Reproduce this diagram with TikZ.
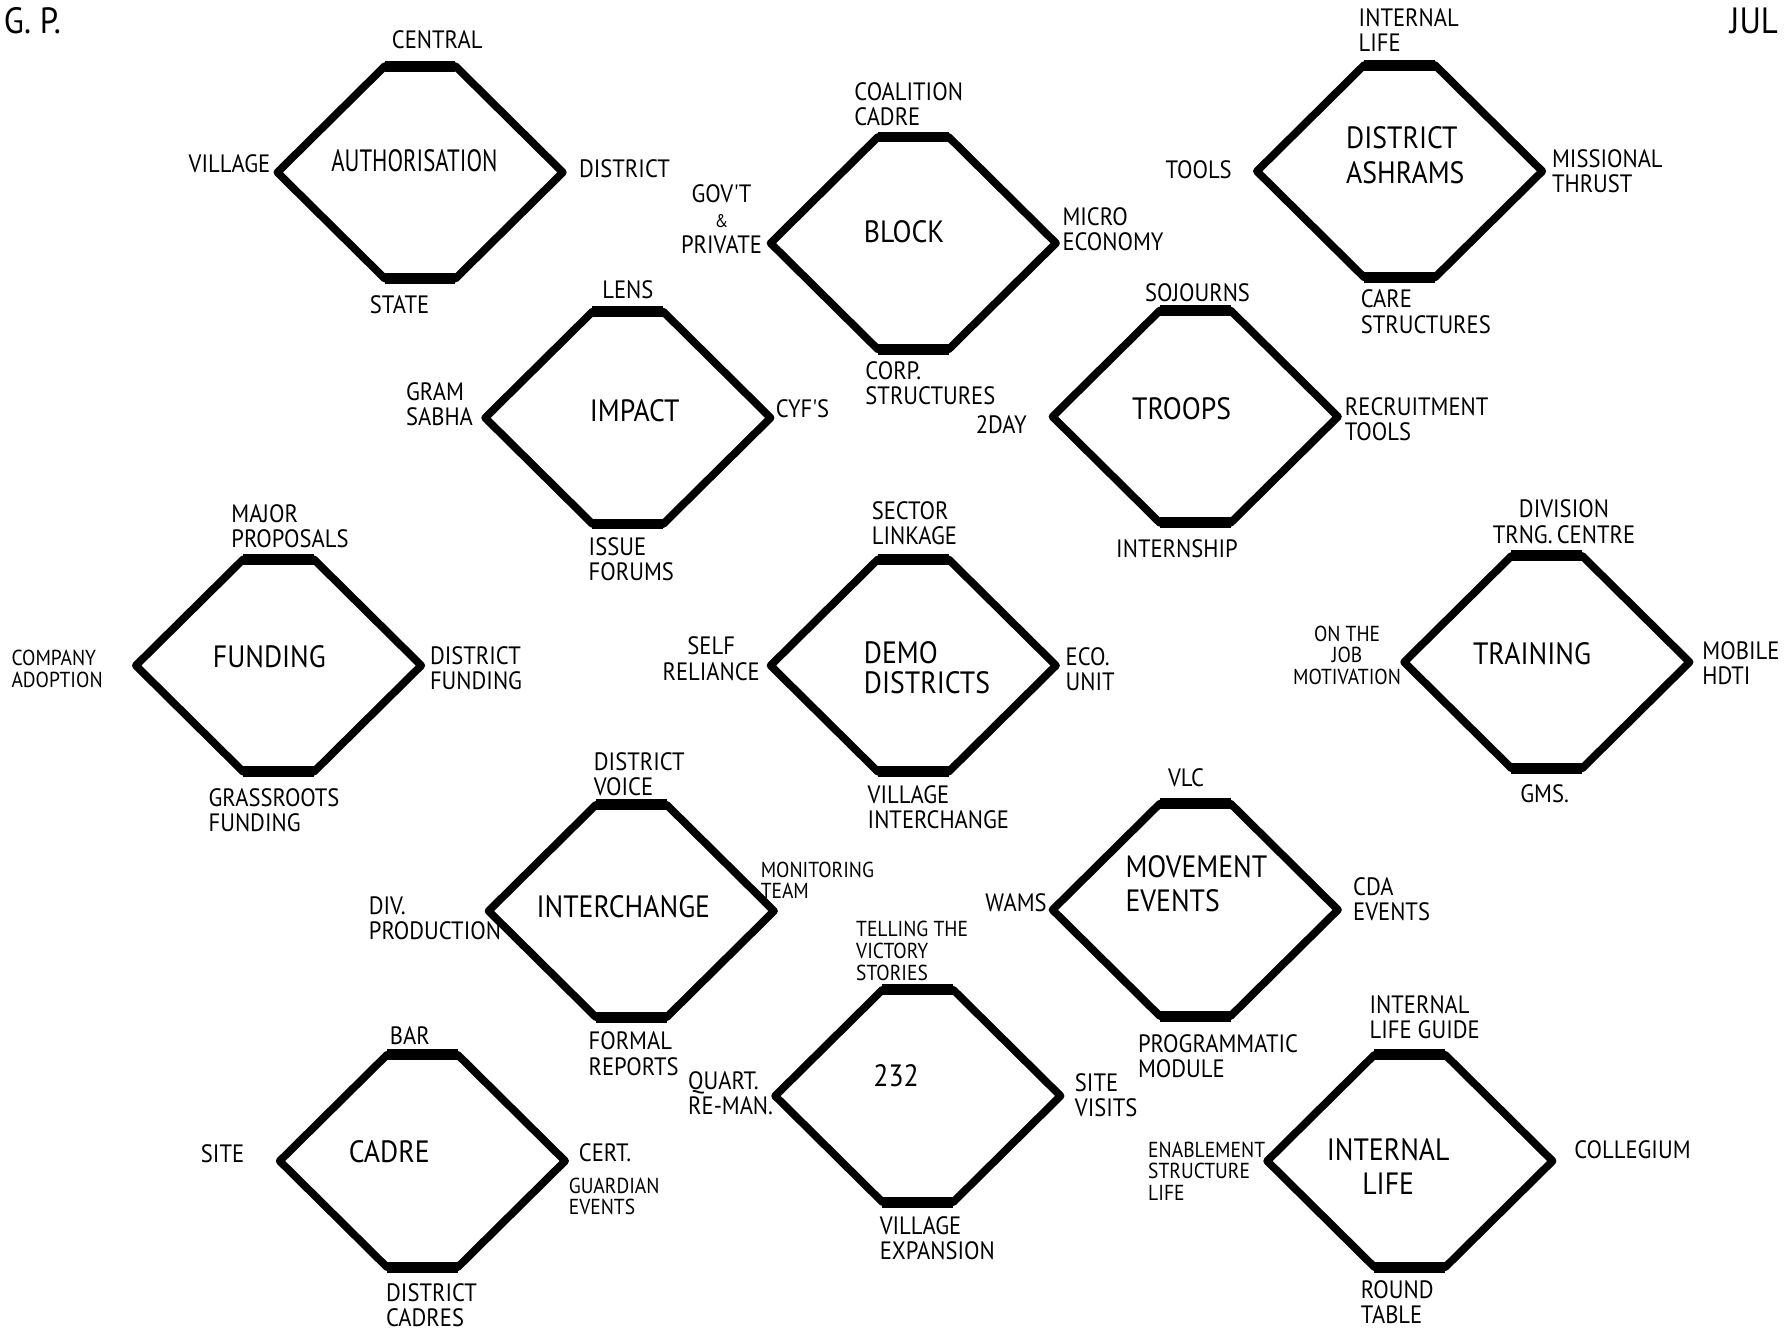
\documentclass[tikz,border=0pt]{standalone}
\usepackage{fontspec}
\usepackage{tikz}
\newfontfamily\hand{PT Sans}[FakeStretch=0.9]
\newfontfamily\handnarrow{PT Sans}[FakeStretch=0.74]
\tikzset{
  hexline/.style={line width=3.4pt, line join=round},
  hexflat/.style={line width=4.8pt},
  hexcell/.pic={
    \draw[hexline] (-31,-93) -- (31,-93) -- (125,0) -- (31,93) -- (-31,93)
      -- (-125,0) -- cycle;
    \draw[hexflat] (-31,-93) -- (31,-93) (-31,93) -- (31,93);
  },
  core label/.style={font=\hand\fontsize{13.5}{15}\selectfont, align=left,
    inner sep=0pt},
  rim label/.style={font=\hand\fontsize{11}{11}\selectfont, align=left,
    inner sep=0pt},
  small label/.style={font=\hand\fontsize{9.5}{9.5}\selectfont, align=left,
    inner sep=0pt},
  corner mark/.style={font=\hand\fontsize{16}{16}\selectfont, inner sep=0pt}
}
\begin{document}
\begin{tikzpicture}[x=0.5pt, y=-0.5pt]
  \useasboundingbox (0,0) rectangle (1568,1167);
  \fill[white] (0,0) rectangle (1568,1167);
  % the thirteen cells
  \foreach \cx/\cy in {368/151, 800/213, 1226/150, 550/366, 1047/365,
      244/583, 800/583, 1355/580, 553/798, 1047/797, 804/960, 370/1017,
      1235/1017}
    \pic at (\cx,\cy) {hexcell};

  \node[corner mark, anchor=west] (gp) at (3,18) {G. P.};
  \node[corner mark, anchor=west] (jul) at (1515,18) {JUL};

  % authorisation
  \node[core label, font=\handnarrow\fontsize{13.5}{15}\selectfont] (auth)
    at (363,141) {AUTHORISATION};
  \node[rim label] (auth-n) at (383,35) {CENTRAL};
  \node[rim label] (auth-w) at (201,143) {VILLAGE};
  \node[rim label] (auth-e) at (547,148) {DISTRICT};
  \node[rim label] (auth-s) at (350,267) {STATE};

  % block
  \node[core label] (block) at (792,203) {BLOCK};
  \node[rim label] (block-n) at (796,91) {COALITION\\CADRE};
  \node[rim label, align=center] (block-w) at (632,192)
    {GOV'T\\{\footnotesize\&}\\PRIVATE};
  \node[rim label] (block-e) at (975,201) {MICRO\\ECONOMY};
  \node[rim label] (block-s) at (815,336) {CORP.\\STRUCTURES};

  % district ashrams
  \node[core label] (ashram) at (1231,136) {DISTRICT\\ASHRAMS};
  \node[rim label] (ashram-n) at (1234,26) {INTERNAL\\LIFE};
  \node[rim label] (ashram-w) at (1050,149) {TOOLS};
  \node[rim label] (ashram-e) at (1408,150) {MISSIONAL\\THRUST};
  \node[rim label] (ashram-s) at (1249,273) {CARE\\STRUCTURES};

  % impact
  \node[core label] (impact) at (556,360) {IMPACT};
  \node[rim label] (impact-n) at (550,254) {LENS};
  \node[rim label] (impact-w) at (385,354) {GRAM\\SABHA};
  \node[rim label] (impact-e) at (703,358) {CYF'S};
  \node[rim label] (impact-s) at (553,490) {ISSUE\\FORUMS};

  % troops
  \node[core label] (troops) at (1035,358) {TROOPS};
  \node[rim label] (troops-n) at (1049,256) {SOJOURNS};
  \node[rim label] (troops-w) at (877,372) {2DAY};
  \node[rim label] (troops-e) at (1241,367) {RECRUITMENT\\TOOLS};
  \node[rim label] (troops-s) at (1031,481) {INTERNSHIP};

  % funding
  \node[core label] (funding) at (236,575) {FUNDING};
  \node[rim label] (funding-n) at (254,461) {MAJOR\\PROPOSALS};
  \node[small label] (funding-w) at (50,586) {COMPANY\\ADOPTION};
  \node[rim label] (funding-e) at (417,585) {DISTRICT\\FUNDING};
  \node[rim label] (funding-s) at (240,710) {GRASSROOTS\\FUNDING};

  % demo districts
  \node[core label, font=\hand\fontsize{13.5}{13}\selectfont] (demo)
    at (812,585) {DEMO\\DISTRICTS};
  \node[rim label] (demo-n) at (801,458) {SECTOR\\LINKAGE};
  \node[rim label, align=center] (demo-w) at (623,577) {SELF\\RELIANCE};
  \node[rim label] (demo-e) at (955,586) {ECO.\\UNIT};
  \node[rim label] (demo-s) at (822,707) {VILLAGE\\INTERCHANGE};

  % training
  \node[core label] (training) at (1342,573) {TRAINING};
  \node[rim label, align=center] (training-n) at (1370,457)
    {DIVISION\\TRNG.\,CENTRE};
  \node[small label, align=center] (training-w) at (1180,574)
    {ON THE\\JOB\\MOTIVATION};
  \node[rim label] (training-e) at (1525,581) {MOBILE\\HDTI};
  \node[rim label] (training-s) at (1353,695) {GMS.};

  % interchange
  \node[core label] (inter) at (546,794) {INTERCHANGE};
  \node[rim label] (inter-n) at (560,678) {DISTRICT\\VOICE};
  \node[rim label] (inter-w) at (381,804) {DIV.\\PRODUCTION};
  \node[small label] (inter-e) at (716,771) {MONITORING\\TEAM};
  \node[rim label] (inter-s) at (555,923) {FORMAL\\REPORTS};

  % movement events
  \node[core label] (move) at (1048,774) {MOVEMENT\\EVENTS};
  \node[rim label] (move-n) at (1039,681) {VLC};
  \node[rim label] (move-w) at (890,791) {WAMS};
  \node[rim label] (move-e) at (1219,788) {CDA\\EVENTS};
  \node[rim label] (move-s) at (1067,925) {PROGRAMMATIC\\MODULE};

  % 232
  \node[core label] (twothree) at (785,942) {232};
  \node[small label] (twothree-n) at (799,833) {TELLING THE\\VICTORY\\STORIES};
  \node[rim label] (twothree-w) at (640,958) {QUART.\\RE-MAN.};
  \node[rim label] (twothree-e) at (969,959) {SITE\\VISITS};
  \node[rim label] (twothree-s) at (821,1085) {VILLAGE\\EXPANSION};

  % cadre
  \node[core label] (cadre) at (341,1009) {CADRE};
  \node[rim label] (cadre-n) at (359,907) {BAR};
  \node[rim label] (cadre-w) at (195,1011) {SITE};
  \node[rim label] (cadre-e) at (530,1010) {CERT.};
  \node[small label] (cadre-e2) at (538,1048) {GUARDIAN\\EVENTS};
  \node[rim label] (cadre-s) at (378,1143) {DISTRICT\\CADRES};

  % internal life
  \node[core label, align=center] (life) at (1216,1022) {INTERNAL\\LIFE};
  \node[rim label] (life-n) at (1248,891) {INTERNAL\\LIFE GUIDE};
  \node[small label] (life-w) at (1057,1026) {ENABLEMENT\\STRUCTURE\\LIFE};
  \node[rim label] (life-e) at (1430,1007) {COLLEGIUM};
  \node[rim label] (life-s) at (1224,1141) {ROUND\\TABLE};
\end{tikzpicture}
\end{document}
